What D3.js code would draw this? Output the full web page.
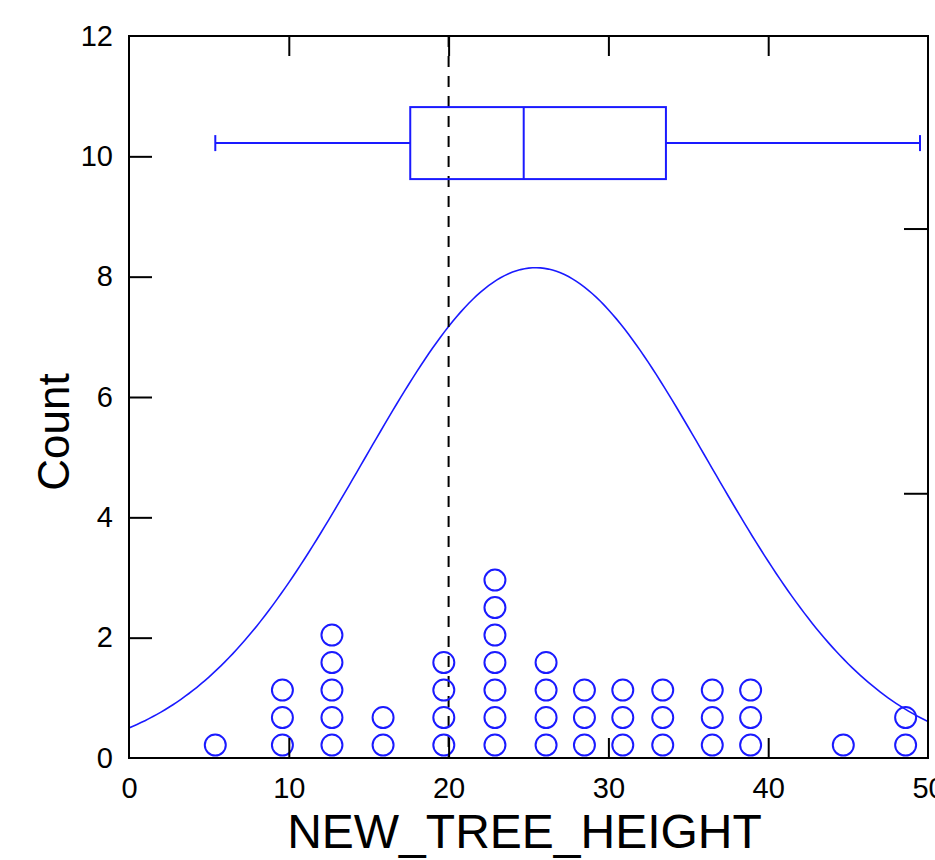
<!DOCTYPE html>
<html>
<head>
<meta charset="utf-8">
<script src="https://cdn.jsdelivr.net/npm/d3@7"></script>
<style>
  body { margin: 0; background: #fff; }
  text { font-family: 'Liberation Sans', Arial, sans-serif; fill: #000; }
</style>
</head>
<body>
<script>
// dot columns (tree height) and number of stacked dots in each
var heights = [5.4, 9.6, 12.7, 15.9, 19.7, 22.9, 26.1, 28.5, 30.9, 33.4, 36.5, 38.9, 44.7, 48.6];
var counts  = [1, 3, 5, 2, 4, 7, 4, 3, 3, 3, 3, 3, 1, 2];

// box plot: min, lower hinge, median, upper hinge, max
var boxStats = [5.4, 17.6, 24.7, 33.6, 49.5];

var xTicks = [0, 10, 20, 30, 40, 50],
    yTicks = [0, 2, 4, 6, 8, 10, 12],
    propTicks = [0.1, 0.2];

var refValue = 20,
    binWidth = 5;

var margin = {top: 36, right: 7, bottom: 102, left: 129},
    outerWidth = 935,
    outerHeight = 860,
    width = outerWidth - margin.left - margin.right,
    height = outerHeight - margin.top - margin.bottom;

var blue = '#1a1aff';

var svg = d3.select('body').append('svg')
    .attr('width', outerWidth)
    .attr('height', outerHeight);

var g = svg.append('g')
    .attr('transform', 'translate(' + margin.left + ',' + margin.top + ')');

var x = d3.scaleLinear().domain([0, 50]).range([0, width]);
var y = d3.scaleLinear().domain([0, 12]).range([height, 0]);

// all observations, expanded from the dot columns
var values = [];
heights.forEach(function(h, i) {
    for (var k = 0; k < counts[i]; k++) values.push(h);
});
var N = values.length;
var y2 = d3.scaleLinear().domain([0, 12 / N]).range([height, 0]);

g.append('clipPath').attr('id', 'clip')
  .append('rect').attr('width', width).attr('height', height);

// normal curve fitted to the data
var mu = d3.mean(values),
    sd = d3.deviation(values);
var curvePts = d3.range(0, 50.01, 0.25).map(function(v) {
    var z = (v - mu) / sd;
    return [v, N * binWidth * Math.exp(-0.5 * z * z) / (sd * Math.sqrt(2 * Math.PI))];
});
curvePts.push([50, 0]);

var line = d3.line()
    .x(function(d) { return x(d[0]); })
    .y(function(d) { return y(d[1]); });

g.append('path')
    .datum(curvePts)
    .attr('d', line)
    .attr('clip-path', 'url(#clip)')
    .attr('fill', 'none')
    .attr('stroke', blue)
    .attr('stroke-width', 1.6);

// dashed reference line
g.append('line')
    .attr('x1', x(refValue)).attr('x2', x(refValue))
    .attr('y1', 0).attr('y2', height)
    .attr('stroke', '#000')
    .attr('stroke-width', 2)
    .attr('stroke-dasharray', '11,9');

// dot density stacks
var dotStep = 0.457;
var dots = [];
heights.forEach(function(h, i) {
    for (var k = 0; k < counts[i]; k++) dots.push({v: h, k: k});
});
g.append('g').selectAll('circle')
    .data(dots)
    .enter().append('circle')
    .attr('cx', function(d) { return x(d.v); })
    .attr('cy', function(d) { return y(dotStep * (d.k + 0.47)); })
    .attr('r', 10.5)
    .attr('fill', 'none')
    .attr('stroke', blue)
    .attr('stroke-width', 2);

// box plot
var boxLevel = 10.22, boxHalf = 36, capHalf = 8;
var by = y(boxLevel);
var box = g.append('g')
    .attr('stroke', blue)
    .attr('stroke-width', 2)
    .attr('fill', 'none');
box.append('line')
    .attr('x1', x(boxStats[0])).attr('x2', x(boxStats[1]))
    .attr('y1', by).attr('y2', by);
box.append('line')
    .attr('x1', x(boxStats[3])).attr('x2', x(boxStats[4]))
    .attr('y1', by).attr('y2', by);
[boxStats[0], boxStats[4]].forEach(function(v) {
    box.append('line')
        .attr('x1', x(v)).attr('x2', x(v))
        .attr('y1', by - capHalf).attr('y2', by + capHalf);
});
box.append('rect')
    .attr('x', x(boxStats[1]))
    .attr('y', by - boxHalf)
    .attr('width', x(boxStats[3]) - x(boxStats[1]))
    .attr('height', boxHalf * 2);
box.append('line')
    .attr('x1', x(boxStats[2])).attr('x2', x(boxStats[2]))
    .attr('y1', by - boxHalf).attr('y2', by + boxHalf);

// axes
function styleAxis(sel) {
    sel.select('.domain').remove();
    sel.selectAll('.tick line').attr('stroke', '#000').attr('stroke-width', 2);
    sel.selectAll('text').style('font-size', '29px').attr('fill', '#000');
}

g.append('g')
    .attr('transform', 'translate(0,' + height + ')')
    .call(d3.axisBottom(x).tickValues(xTicks).tickSize(-20).tickPadding(19))
    .call(styleAxis)
    .selectAll('.tick line').filter(function(d) { return d === 0 || d === 50; }).remove();

g.append('g')
    .call(d3.axisTop(x).tickValues([10, 20, 30, 40]).tickSize(-20).tickFormat(''))
    .call(styleAxis);

g.append('g')
    .call(d3.axisLeft(y).tickValues(yTicks).tickSize(-23).tickPadding(16))
    .call(styleAxis)
    .selectAll('.tick line').filter(function(d) { return d === 0 || d === 12; }).remove();

g.append('g')
    .attr('transform', 'translate(' + width + ',0)')
    .call(d3.axisRight(y2).tickValues(propTicks).tickSize(-24).tickFormat(''))
    .call(styleAxis);

// frame
g.append('rect')
    .attr('width', width)
    .attr('height', height)
    .attr('fill', 'none')
    .attr('stroke', '#000')
    .attr('stroke-width', 2);

// titles
svg.append('text')
    .attr('x', margin.left + width / 2 - 4)
    .attr('y', 848)
    .attr('text-anchor', 'middle')
    .style('font-size', '48px')
    .text('NEW_TREE_HEIGHT');

svg.append('text')
    .attr('transform', 'translate(69,' + (margin.top + height / 2 + 35) + ') rotate(-90)')
    .attr('text-anchor', 'middle')
    .style('font-size', '44px')
    .text('Count');
</script>
</body>
</html>
